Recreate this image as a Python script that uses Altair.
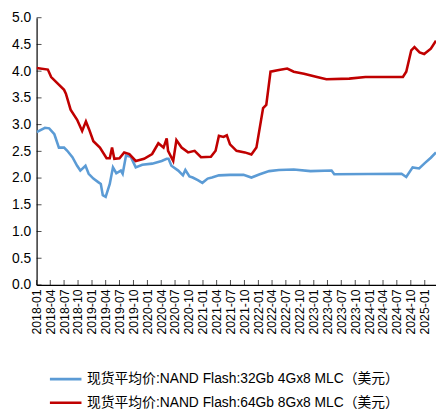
import altair as alt
import pandas as pd

# ---- data ----
name_32 = "现货平均价:NAND Flash:32Gb 4Gx8 MLC（美元）"
name_64 = "现货平均价:NAND Flash:64Gb 8Gx8 MLC（美元）"

dates_32 = ["2018-01-01","2018-02-25","2018-03-25","2018-04-28","2018-05-28","2018-07-01","2018-07-22",
            "2018-08-25","2018-09-25","2018-10-16","2018-11-19","2018-12-10","2019-01-10","2019-02-13",
            "2019-02-28","2019-03-13","2019-04-01","2019-04-28","2019-05-19","2019-06-10","2019-07-10",
            "2019-07-22","2019-08-13","2019-09-13","2019-10-16","2019-11-28","2020-02-01","2020-04-04",
            "2020-05-07","2020-05-19","2020-06-07","2020-07-22","2020-08-22","2020-09-07","2020-10-04",
            "2020-10-25","2020-11-28","2020-12-28","2021-02-01","2021-03-01","2021-04-16","2021-06-28",
            "2021-09-25","2021-11-16","2022-01-10","2022-03-13","2022-05-16","2022-08-22","2022-12-10",
            "2023-04-28","2023-05-16","2024-08-01","2024-09-01","2024-10-13","2024-11-25","2025-01-01",
            "2025-02-10","2025-03-16"]
vals_32 = [2.86,2.94,2.93,2.82,2.57,2.57,2.51,2.39,2.23,2.14,2.23,2.08,1.99,1.92,1.89,1.68,1.65,1.89,
           2.20,2.09,2.14,2.08,2.42,2.40,2.20,2.25,2.27,2.32,2.36,2.36,2.23,2.14,2.05,2.15,2.03,2.01,
           1.96,1.91,1.99,2.01,2.05,2.06,2.06,2.01,2.07,2.13,2.15,2.16,2.13,2.14,2.07,2.08,2.02,2.20,
           2.18,2.28,2.38,2.48]

dates_64 = ["2018-01-01","2018-03-16","2018-04-07","2018-05-19","2018-07-01","2018-07-13","2018-08-13",
            "2018-09-25","2018-10-28","2018-11-22","2018-12-13","2019-01-10","2019-02-22","2019-04-07",
            "2019-04-28","2019-05-13","2019-05-28","2019-07-01","2019-08-01","2019-09-04","2019-10-16",
            "2019-12-10","2020-02-01","2020-03-13","2020-04-16","2020-05-07","2020-05-16","2020-06-19",
            "2020-07-10","2020-08-13","2020-09-25","2020-11-07","2020-12-19","2021-02-22","2021-03-25",
            "2021-04-16","2021-05-16","2021-06-07","2021-06-28","2021-08-10","2021-10-04","2021-11-16",
            "2021-12-19","2022-02-01","2022-02-22","2022-03-22","2022-05-16","2022-07-10","2022-08-22",
            "2022-10-28","2023-01-22","2023-03-25","2023-08-22","2023-12-07","2024-08-10","2024-09-01",
            "2024-10-04","2024-10-25","2024-11-28","2024-12-28","2025-02-10","2025-03-16"]
vals_64 = [4.06,4.03,3.89,3.77,3.65,3.58,3.28,3.09,2.88,3.06,2.91,2.69,2.57,2.37,2.37,2.57,2.36,2.37,
           2.48,2.45,2.32,2.36,2.45,2.65,2.57,2.74,2.51,2.32,2.71,2.57,2.48,2.51,2.39,2.40,2.51,2.79,
           2.77,2.80,2.63,2.51,2.48,2.44,2.57,3.31,3.37,3.99,4.02,4.05,3.99,3.95,3.89,3.85,3.86,3.89,
           3.89,3.99,4.39,4.45,4.35,4.32,4.42,4.57]

tick_labels = ["2018-01","2018-04","2018-07","2018-10","2019-01","2019-04","2019-07","2019-10",
               "2020-01","2020-04","2020-07","2020-10","2021-01","2021-04","2021-07","2021-10",
               "2022-01","2022-04","2022-07","2022-10","2023-01","2023-04","2023-07","2023-10",
               "2024-01","2024-04","2024-07","2024-10","2025-01"]
y_ticks = [0.0, 0.5, 1.0, 1.5, 2.0, 2.5, 3.0, 3.5, 4.0, 4.5, 5.0]
x_start = "2018-01-01"
x_end = "2025-03-16"

blue = "#5B9BD5"
red = "#C00000"
FONT = "Liberation Sans, Noto Sans CJK SC, sans-serif"

df = pd.DataFrame({
    "date": pd.to_datetime(dates_32 + dates_64),
    "value": vals_32 + vals_64,
    "series": [name_32] * len(dates_32) + [name_64] * len(dates_64),
})

def dt(s):
    y, m, d = (int(p) for p in s.split("-"))
    return alt.DateTime(year=y, month=m, date=d)

x_values = [dt(t + "-01") for t in tick_labels]

x_scale = alt.Scale(domain=[dt(x_start), dt(x_end)])
y_scale = alt.Scale(domain=[0, 5])

x_axis = alt.Axis(title=None, values=x_values, format="%Y-%m", labelAngle=270,
                  labelFontSize=12.5, labelColor="black", labelFont=FONT,
                  domainColor="black", domainWidth=1.2, ticks=False, grid=False,
                  labelPadding=4, labelOverlap=False, labelFlush=False)
y_axis = alt.Axis(title=None, values=y_ticks, format=".1f", labelFontSize=14,
                  labelColor="black", labelFont=FONT, domainColor="black",
                  domainWidth=1.2, ticks=False, grid=False, labelPadding=6)

lines = alt.Chart(df).mark_line(strokeWidth=2.6, clip=True).encode(
    x=alt.X("date:T", scale=x_scale, axis=x_axis),
    y=alt.Y("value:Q", scale=y_scale, axis=y_axis),
    color=alt.Color("series:N",
                    scale=alt.Scale(domain=[name_32, name_64], range=[blue, red]),
                    legend=alt.Legend(title=None, orient="none", legendX=20, legendY=357,
                                      direction="vertical", symbolType="M-2,0L2,0",
                                      symbolSize=256, symbolStrokeWidth=2.6,
                                      labelFontSize=14, labelFont=FONT, labelColor="black",
                                      labelOffset=12, labelLimit=420, rowPadding=7, padding=0)),
)

xt_df = pd.DataFrame({"date": pd.to_datetime([t + "-01" for t in tick_labels]),
                      "value": [0.0] * len(tick_labels)})
yt_df = pd.DataFrame({"date": pd.to_datetime([x_start] * len(y_ticks)), "value": y_ticks})

x_ticks = alt.Chart(xt_df).mark_tick(orient="vertical", size=5, thickness=1, color="black",
                                     yOffset=-2.5).encode(
    x=alt.X("date:T", scale=x_scale, axis=x_axis),
    y=alt.Y("value:Q", scale=y_scale, axis=y_axis),
)
y_tick_marks = alt.Chart(yt_df).mark_tick(orient="horizontal", size=5, thickness=1, color="black",
                                          xOffset=2.5).encode(
    x=alt.X("date:T", scale=x_scale, axis=x_axis),
    y=alt.Y("value:Q", scale=y_scale, axis=y_axis),
)

chart = alt.layer(lines, x_ticks, y_tick_marks).properties(
    width=405, height=271,
    autosize=alt.AutoSizeParams(type="none"),
    padding={"left": 29, "top": 7, "right": 0, "bottom": 128},
    background="white",
).configure_view(stroke=None)

chart.save("out.html", embed_options={"renderer": "svg", "actions": False})
